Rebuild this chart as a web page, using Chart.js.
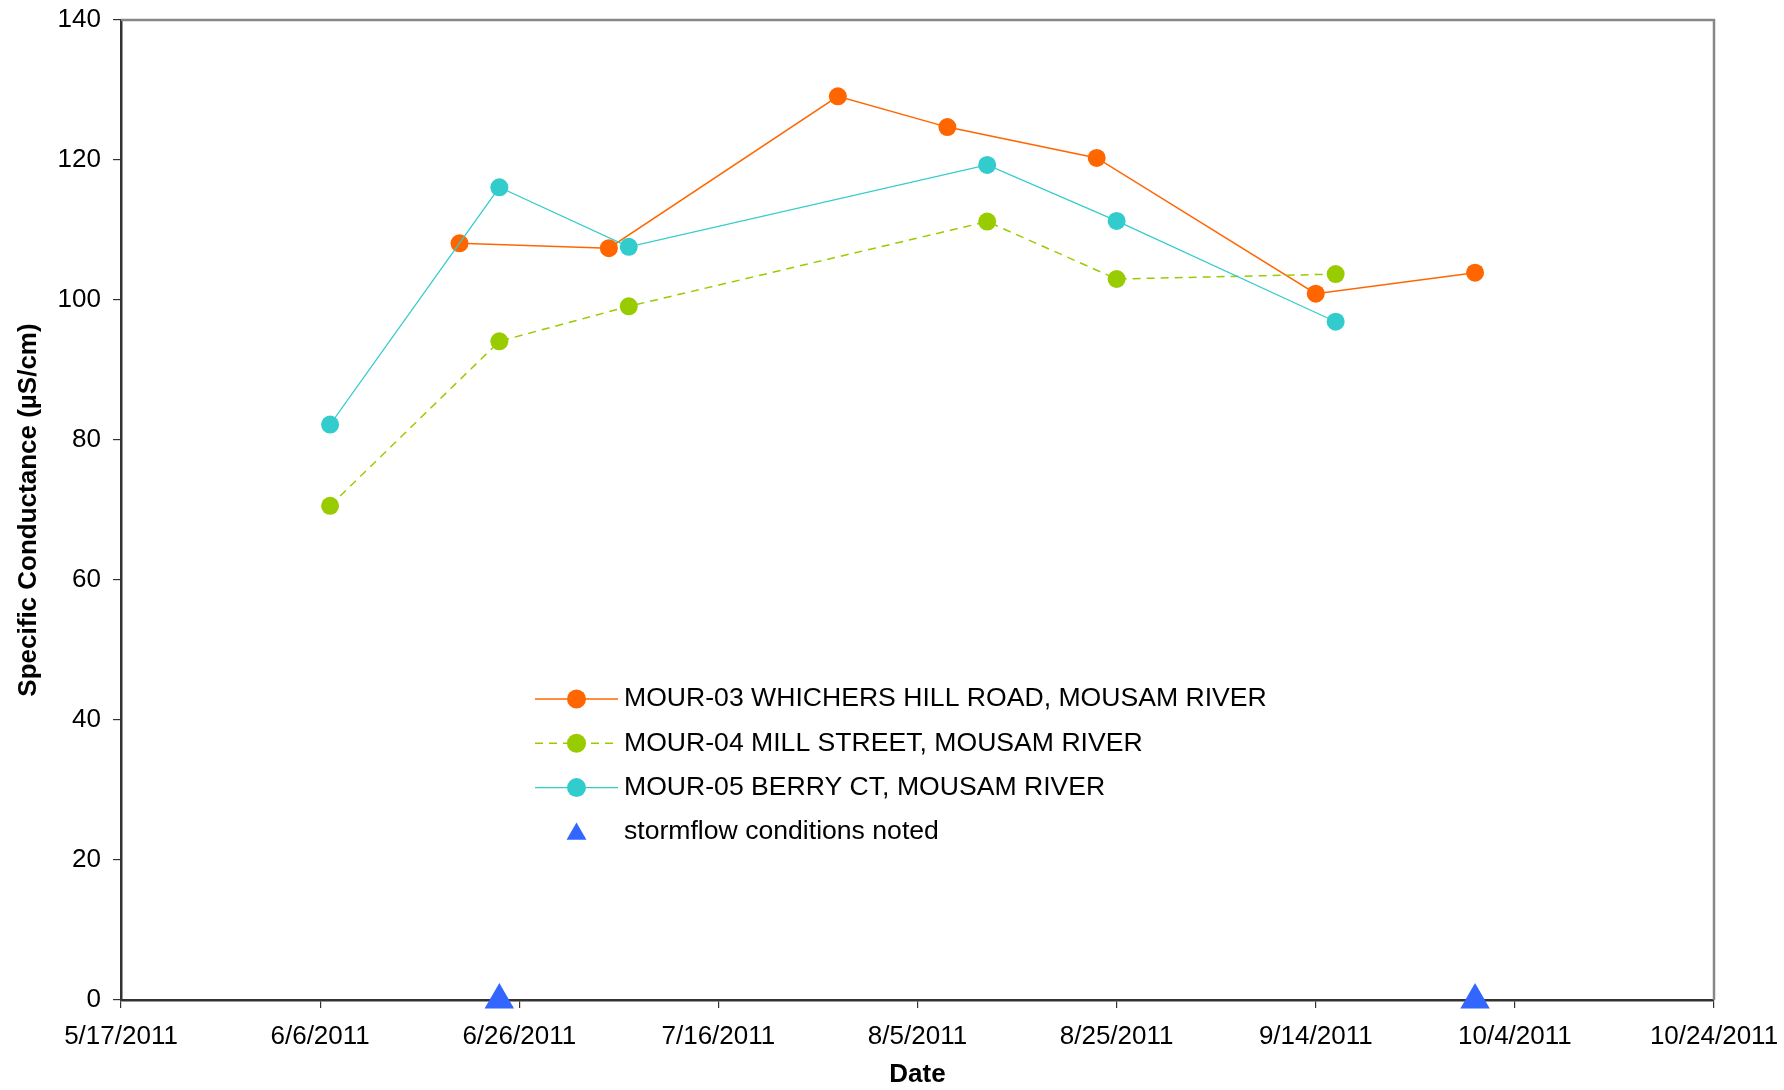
<!DOCTYPE html>
<html>
<head>
<meta charset="utf-8">
<title>Specific Conductance, Mousam River 2011</title>
<script src="https://cdn.jsdelivr.net/npm/chart.js@4.4.1/dist/chart.umd.min.js"></script>
<style>
  html, body { margin: 0; padding: 0; background: #fff; overflow: hidden; }
  #wrap { width: 1784px; height: 1090px; position: relative; }
</style>
</head>
<body>
<div id="wrap"><canvas id="chart"></canvas></div>
<script>
// Date axis tick labels (every 20 days)
const tickLabels = ['5/17/2011', '6/6/2011', '6/26/2011', '7/16/2011', '8/5/2011',
                    '8/25/2011', '9/14/2011', '10/4/2011', '10/24/2011'];
const yTicks = [0, 20, 40, 60, 80, 100, 120, 140];

const seriesNames = [
  'MOUR-03 WHICHERS HILL ROAD, MOUSAM RIVER',
  'MOUR-04 MILL STREET, MOUSAM RIVER',
  'MOUR-05 BERRY CT, MOUSAM RIVER',
  'stormflow conditions noted'
];

// Specific conductance (µS/cm) by sampling date
const mour03Dates  = ['6/20/2011', '7/5/2011', '7/28/2011', '8/8/2011', '8/23/2011', '9/14/2011', '9/30/2011'];
const mour03Values = [108.1, 107.4, 129.1, 124.7, 120.3, 100.9, 103.9];

const mour04Dates  = ['6/7/2011', '6/24/2011', '7/7/2011', '8/12/2011', '8/25/2011', '9/16/2011'];
const mour04Values = [70.6, 94.1, 99.1, 111.2, 103.0, 103.7];

const mour05Dates  = ['6/7/2011', '6/24/2011', '7/7/2011', '8/12/2011', '8/25/2011', '9/16/2011'];
const mour05Values = [82.2, 116.1, 107.6, 119.3, 111.3, 96.9];

const stormDates  = ['6/24/2011', '9/30/2011'];
const stormValues = [0, 0];

// Dates are plotted as day offsets from the first axis tick
function dayNumber(s) {
  const [m, d, y] = s.split('/').map(Number);
  return Date.UTC(y, m - 1, d) / 86400000;
}
const originDay = dayNumber(tickLabels[0]);
const toX = s => dayNumber(s) - originDay;
function formatDay(v) {
  const dt = new Date((originDay + v) * 86400000);
  return (dt.getUTCMonth() + 1) + '/' + dt.getUTCDate() + '/' + dt.getUTCFullYear();
}
const toPoints = (dates, values) => dates.map((d, i) => ({ x: toX(d), y: values[i] }));

const FONT = '"Liberation Sans", Arial, Helvetica, sans-serif';

// Grey frame on the top and right of the plot area
const plotFrame = {
  id: 'plotFrame',
  beforeDatasetsDraw(chart) {
    const { ctx, chartArea: a } = chart;
    ctx.save();
    ctx.strokeStyle = '#878787';
    ctx.lineWidth = 2.5;
    ctx.beginPath();
    ctx.moveTo(a.left, a.top);
    ctx.lineTo(a.right, a.top);
    ctx.lineTo(a.right, a.bottom);
    ctx.stroke();
    ctx.restore();
  }
};

// Legend drawn inside the plot area
const insideLegend = {
  id: 'insideLegend',
  afterDatasetsDraw(chart, args, opts) {
    const { ctx, chartArea: a } = chart;
    const x0 = a.left + opts.offsetX;
    const y0 = a.top + opts.offsetY;
    ctx.save();
    chart.data.datasets.forEach((ds, i) => {
      const y = y0 + i * opts.rowGap;
      const cx = x0 + opts.lineLength / 2;
      if (ds.showLine !== false) {
        ctx.beginPath();
        ctx.setLineDash(ds.borderDash || []);
        ctx.strokeStyle = ds.borderColor;
        ctx.lineWidth = ds.borderWidth;
        ctx.moveTo(x0, y);
        ctx.lineTo(x0 + opts.lineLength, y);
        ctx.stroke();
        ctx.setLineDash([]);
      }
      ctx.fillStyle = ds.pointBackgroundColor;
      const isTri = ds.pointStyle === 'triangle';
      Chart.helpers.drawPoint(ctx, {
        pointStyle: ds.pointStyle,
        radius: isTri ? opts.triangleRadius : opts.markerRadius,
        borderWidth: 0,
        rotation: 0
      }, cx, isTri ? y + 2 : y);
      ctx.fillStyle = '#000';
      ctx.font = opts.font;
      ctx.textBaseline = 'middle';
      ctx.textAlign = 'left';
      ctx.fillText(ds.label, x0 + opts.lineLength + opts.textGap, y);
    });
    ctx.restore();
  }
};

const ctx = document.getElementById('chart');
new Chart(ctx, {
  type: 'scatter',
  data: {
    datasets: [
      {
        label: seriesNames[0],
        data: toPoints(mour03Dates, mour03Values),
        showLine: true,
        borderColor: '#FF6600',
        backgroundColor: '#FF6600',
        pointBackgroundColor: '#FF6600',
        borderWidth: 1.5,
        pointRadius: 9,
        pointBorderWidth: 0,
        pointStyle: 'circle',
        order: 3
      },
      {
        label: seriesNames[1],
        data: toPoints(mour04Dates, mour04Values),
        showLine: true,
        borderColor: '#99CC00',
        backgroundColor: '#99CC00',
        pointBackgroundColor: '#99CC00',
        borderWidth: 1.5,
        borderDash: [8, 6],
        pointRadius: 9,
        pointBorderWidth: 0,
        pointStyle: 'circle',
        order: 2
      },
      {
        label: seriesNames[2],
        data: toPoints(mour05Dates, mour05Values),
        showLine: true,
        borderColor: '#33CCCC',
        backgroundColor: '#33CCCC',
        pointBackgroundColor: '#33CCCC',
        borderWidth: 1.2,
        pointRadius: 9,
        pointBorderWidth: 0,
        pointStyle: 'circle',
        order: 1
      },
      {
        label: seriesNames[3],
        data: toPoints(stormDates, stormValues),
        showLine: false,
        borderColor: '#3366FF',
        backgroundColor: '#3366FF',
        pointBackgroundColor: '#3366FF',
        pointRadius: 17,
        pointBorderWidth: 0,
        pointStyle: 'triangle',
        clip: false,
        order: 0
      }
    ]
  },
  options: {
    responsive: true,
    maintainAspectRatio: false,
    animation: false,
    events: [],
    layout: { padding: { top: 20, right: 70, left: 0, bottom: 0 } },
    plugins: {
      legend: { display: false },
      tooltip: { enabled: false },
      insideLegend: {
        offsetX: 414,
        offsetY: 679,
        rowGap: 44.3,
        lineLength: 83,
        textGap: 6,
        markerRadius: 9.5,
        triangleRadius: 11.5,
        font: '26.6px ' + FONT
      }
    },
    scales: {
      x: {
        type: 'linear',
        min: toX(tickLabels[0]),
        max: toX(tickLabels[tickLabels.length - 1]),
        afterBuildTicks: s => { s.ticks = tickLabels.map(t => ({ value: toX(t) })); },
        afterFit: s => { s.height = 90; s.paddingLeft = 0; s.paddingRight = 0; },
        ticks: {
          callback: v => formatDay(v),
          color: '#000',
          font: { family: FONT, size: 26 },
          padding: 13,
          maxRotation: 0,
          autoSkip: false
        },
        grid: { display: true, drawOnChartArea: false, drawTicks: true, tickLength: 8, color: '#333', lineWidth: 1.2 },
        border: { display: true, color: '#333', width: 2.5 },
        title: {
          display: true,
          text: 'Date',
          color: '#000',
          font: { family: FONT, size: 26, weight: 'bold' },
          padding: { top: 0, bottom: 0 }
        }
      },
      y: {
        type: 'linear',
        min: 0,
        max: 140,
        afterBuildTicks: s => { s.ticks = yTicks.map(v => ({ value: v })); },
        afterFit: s => { s.width = 121; s.paddingTop = 0; s.paddingBottom = 0; },
        ticks: {
          color: '#000',
          font: { family: FONT, size: 26 },
          padding: 12
        },
        grid: { display: true, drawOnChartArea: false, drawTicks: true, tickLength: 8, color: '#333', lineWidth: 1.2 },
        border: { display: true, color: '#333', width: 2.5 },
        title: {
          display: true,
          text: 'Specific Conductance (µS/cm)',
          color: '#000',
          font: { family: FONT, size: 26, weight: 'bold' },
          padding: { top: 13, bottom: 0 }
        }
      }
    }
  },
  plugins: [plotFrame, insideLegend]
});
</script>
</body>
</html>
